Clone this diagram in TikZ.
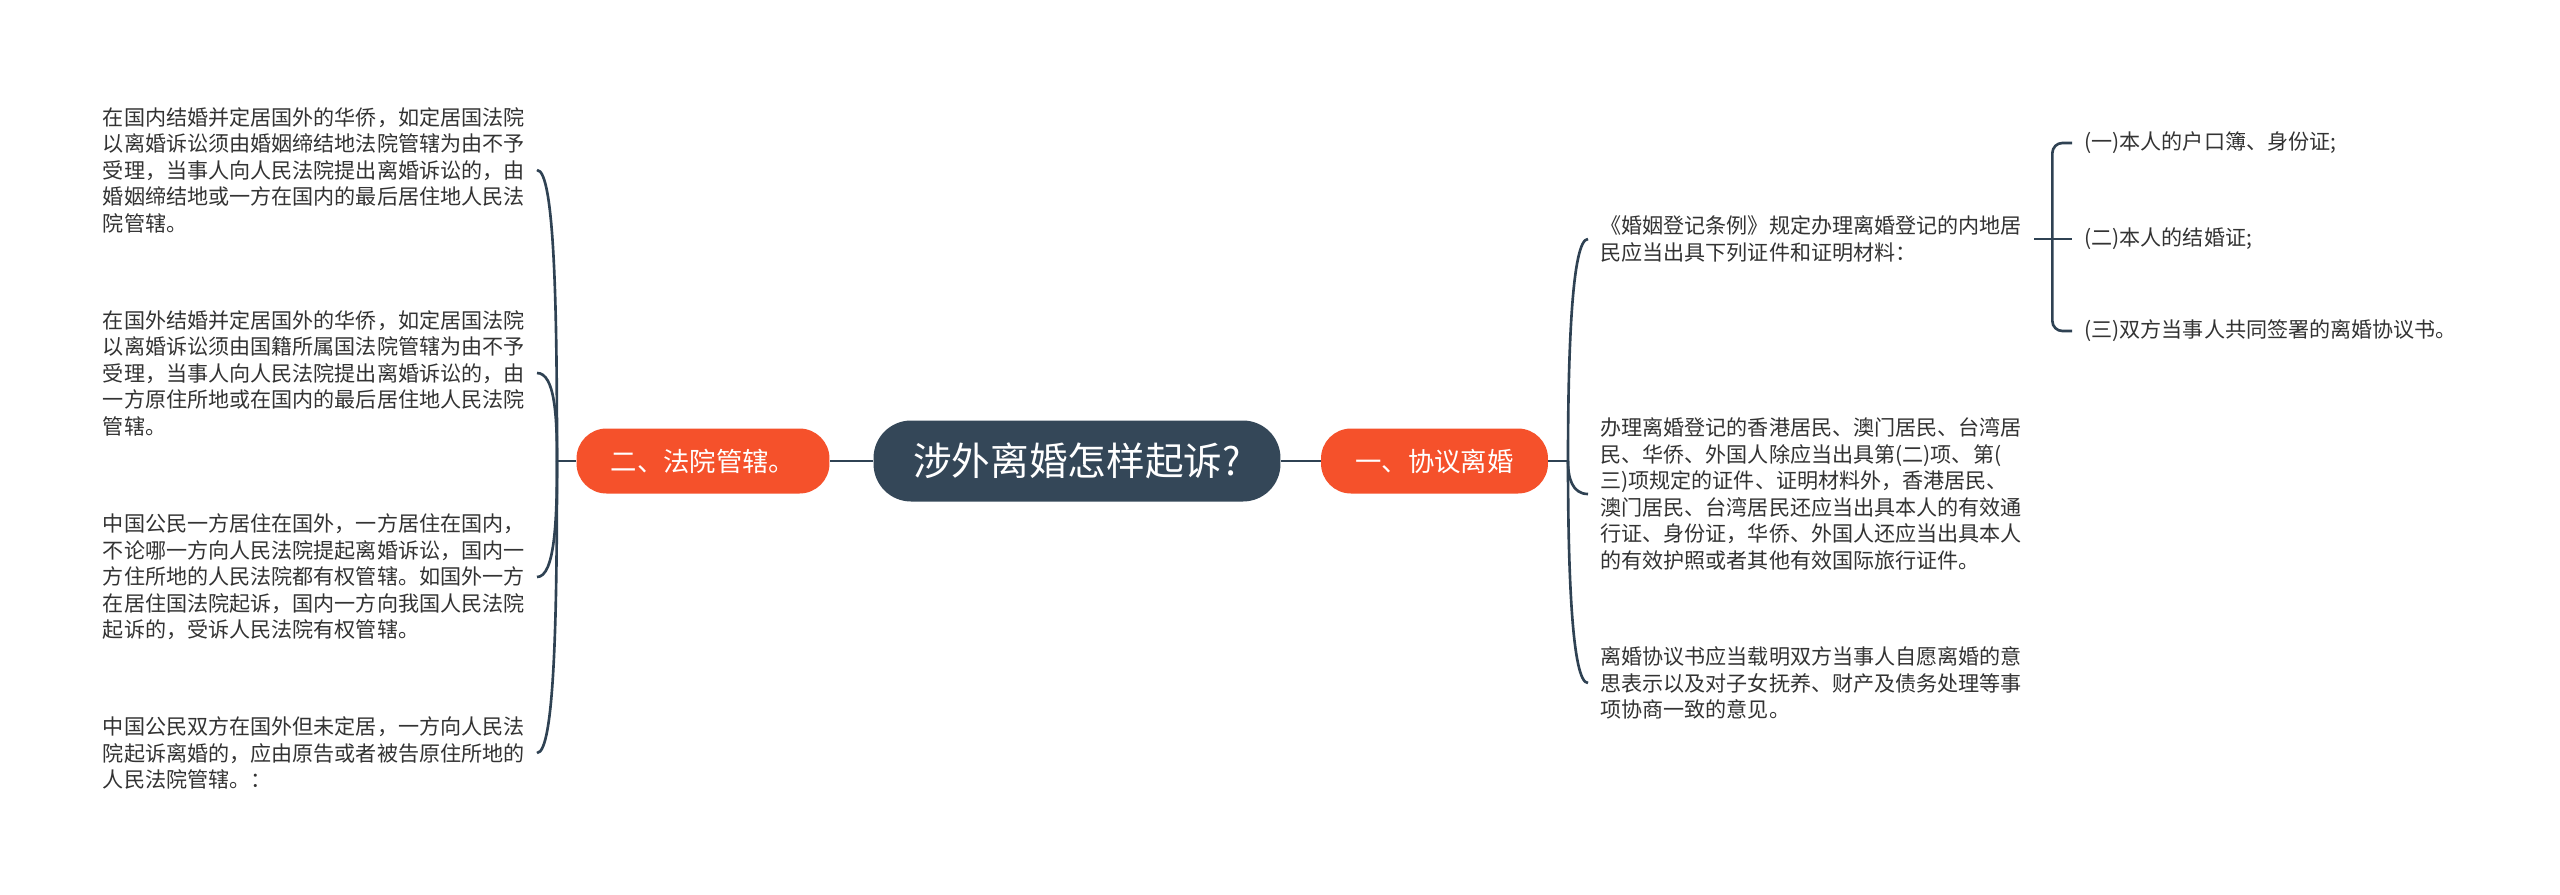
\documentclass[tikz,border=0pt]{standalone}
\usepackage{fontspec}
\setmainfont{Noto Sans CJK SC}
\usetikzlibrary{calc}

\definecolor{hubfill}{HTML}{344758}
\definecolor{topicfill}{HTML}{F5512B}
\definecolor{linkcol}{HTML}{2F4253}
\definecolor{leaftext}{HTML}{333333}

\tikzset{
  hub/.style={fill=hubfill, text=white, rounded corners=0.75cm,
    minimum width=8.14cm, minimum height=1.62cm, font=\fontsize{22}{26}\selectfont},
  topic/.style={fill=topicfill, text=white, rounded corners=0.6cm,
    minimum height=1.3cm, font=\fontsize{15}{18}\selectfont},
  leaf/.style={anchor=west, align=left, text=leaftext, inner xsep=0.24cm,
    inner ysep=0pt, font=\fontsize{12}{15.1}\selectfont},
  link/.style={draw=linkcol, line width=1.5pt},
}

\begin{document}
\begin{tikzpicture}[x=0.02cm, y=-0.02cm]
    \useasboundingbox[fill=white] (0,0) rectangle (2560,894);

    % ─────────── centro ────────────────────────────────────────────────
    \node[hub] (hub) at (1077,461) {涉外离婚怎样起诉?};
    \node[topic, minimum width=5.06cm] (lt) at (703,461) {二、法院管辖。};
    \node[topic, minimum width=4.54cm] (rt) at (1434.5,461) {一、协议离婚};
    \coordinate (lfork) at (557,461);
    \coordinate (rfork) at (1568,461);
    \draw[link] (hub.west) -- (lt.east);
    \draw[link] (hub.east) -- (rt.west);
    \draw[link] (lt.west) -- (lfork);
    \draw[link] (rt.east) -- (rfork);

    % ─────────── izquierda: 法院管辖 ───────────────────────────────────
    \node[leaf, anchor=east] (t1) at (537,170) {在国内结婚并定居国外的华侨，如定居国法院\\
以离婚诉讼须由婚姻缔结地法院管辖为由不予\\
受理，当事人向人民法院提出离婚诉讼的，由\\
婚姻缔结地或一方在国内的最后居住地人民法\\
院管辖。};
    \node[leaf, anchor=east] (t2) at (537,373) {在国外结婚并定居国外的华侨，如定居国法院\\
以离婚诉讼须由国籍所属国法院管辖为由不予\\
受理，当事人向人民法院提出离婚诉讼的，由\\
一方原住所地或在国内的最后居住地人民法院\\
管辖。};
    \node[leaf, anchor=east] (t3) at (537,577) {中国公民一方居住在国外，一方居住在国内，\\
不论哪一方向人民法院提起离婚诉讼，国内一\\
方住所地的人民法院都有权管辖。如国外一方\\
在居住国法院起诉，国内一方向我国人民法院\\
起诉的，受诉人民法院有权管辖。};
    \node[leaf, anchor=east] (t4) at (537,753) {中国公民双方在国外但未定居，一方向人民法\\
院起诉离婚的，应由原告或者被告原住所地的\\
人民法院管辖。：};
    \foreach \t in {t1,t2,t3,t4}
      \draw[link] (lfork) .. controls ($(lfork)!0.5!(lfork |- \t.east)$)
        and ($(lfork |- \t.east)+(-2,0)$) .. (\t.east);

    % ─────────── derecha: 协议离婚 ─────────────────────────────────────
    \node[leaf] (ta) at (1588,239) {《婚姻登记条例》规定办理离婚登记的内地居\\
民应当出具下列证件和证明材料：};
    \node[leaf] (tb) at (1588,494) {办理离婚登记的香港居民、澳门居民、台湾居\\
民、华侨、外国人除应当出具第(二)项、第(\\
三)项规定的证件、证明材料外，香港居民、\\
澳门居民、台湾居民还应当出具本人的有效通\\
行证、身份证，华侨、外国人还应当出具本人\\
的有效护照或者其他有效国际旅行证件。};
    \node[leaf] (tc) at (1588,683) {离婚协议书应当载明双方当事人自愿离婚的意\\
思表示以及对子女抚养、财产及债务处理等事\\
项协商一致的意见。};
    \foreach \t in {ta,tb,tc}
      \draw[link] (rfork) .. controls ($(rfork)!0.5!(rfork |- \t.west)$)
        and ($(rfork |- \t.west)+(4,0)$) .. (\t.west);

    % ─────────── materiales ────────────────────────────────────────────
    \coordinate (sfork) at ($(ta.east)+(18,0)$);
    \node[leaf] (i1) at (2072,143) {(一)本人的户口簿、身份证;};
    \node[leaf] (i2) at (sfork -| 2072,0) {(二)本人的结婚证;};
    \node[leaf] (i3) at (2072,331) {(三)双方当事人共同签署的离婚协议书。};
    \draw[link] (ta.east) -- (sfork) -- (i2.west);
    \draw[link, rounded corners=0.2cm] (sfork) |- (i1.west);
    \draw[link, rounded corners=0.2cm] (sfork) |- (i3.west);
  \end{tikzpicture}
\end{document}
